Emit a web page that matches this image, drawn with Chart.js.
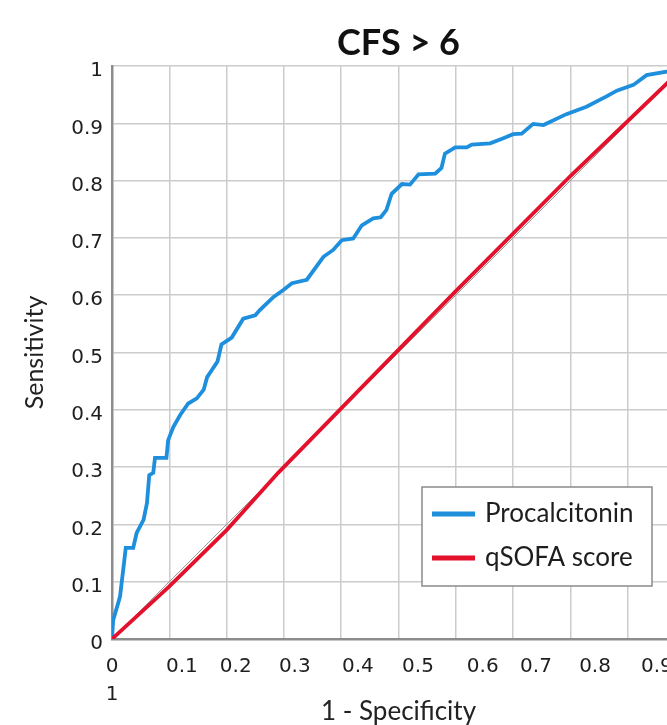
<!DOCTYPE html>
<html>
<head>
<meta charset="utf-8">
<script src="https://cdn.jsdelivr.net/npm/chart.js@4/dist/chart.umd.min.js"></script>
<style>
  html, body { margin: 0; padding: 0; background: #ffffff; overflow: hidden; }
  #wrap { width: 700px; height: 725px; }
</style>
</head>
<body>
<div id="wrap"><canvas id="c" width="700" height="725"></canvas></div>
<script>
// ---- data ----
const chartTitle = 'CFS > 6';
const xAxisTitle = '1 - Specificity';
const yAxisTitle = 'Sensitivity';
const seriesNames = ['Procalcitonin', 'qSOFA score'];

const procalcitoninFPR = [0,0.002,0.010,0.014,0.021,0.024,0.037,0.043,0.055,0.061,0.065,0.072,0.075,0.095,0.098,0.107,0.119,0.133,0.148,0.160,0.166,0.174,0.184,0.191,0.209,0.229,0.250,0.258,0.282,0.299,0.314,0.340,0.369,0.386,0.401,0.421,0.436,0.456,0.469,0.479,0.488,0.506,0.520,0.535,0.564,0.575,0.581,0.599,0.619,0.628,0.660,0.683,0.700,0.715,0.735,0.753,0.793,0.828,0.863,0.881,0.910,0.933,0.968,1];
const procalcitoninTPR = [0,0.033,0.060,0.074,0.133,0.159,0.159,0.185,0.208,0.237,0.286,0.290,0.316,0.316,0.347,0.370,0.391,0.411,0.420,0.435,0.457,0.469,0.484,0.514,0.526,0.559,0.565,0.574,0.597,0.609,0.621,0.627,0.667,0.679,0.696,0.699,0.722,0.734,0.736,0.749,0.777,0.794,0.793,0.811,0.812,0.822,0.847,0.858,0.858,0.863,0.865,0.874,0.881,0.882,0.899,0.897,0.916,0.929,0.947,0.957,0.967,0.984,0.990,1];

const qsofaFPR = [0,0.1,0.2,0.29,0.6,0.8,1];
const qsofaTPR = [0,0.092,0.19,0.29,0.607,0.808,1];

const referenceFPR = [0,1];
const referenceTPR = [0,1];

const yTickValues = [0,0.1,0.2,0.3,0.4,0.5,0.6,0.7,0.8,0.9,1];
const yTickLabels = ['0','0.1','0.2','0.3','0.4','0.5','0.6','0.7','0.8','0.9','1'];
// x tick labels and the axis value each label sits over in the reference
const xTickLabels = [['0','1'],'0.1','0.2','0.3','0.4','0.5','0.6','0.7','0.8','0.9'];
const xTickLabelAt = [0,0.122,0.216,0.319,0.429,0.534,0.647,0.740,0.843,0.951];

// ---- build ----
const zip = (xs, ys) => xs.map((x, i) => ({x: x, y: ys[i]}));
const tickFont = {family: 'DejaVu Sans', size: 20, weight: 'normal', lineHeight: 1.4};

const legendPlugin = {
  id: 'insideLegend',
  afterDatasetsDraw(chart) {
    const ctx = chart.ctx, a = chart.chartArea;
    const bx = a.left + 310, by = a.top + 421, bw = 230, bh = 99;
    ctx.save();
    ctx.fillStyle = '#ffffff';
    ctx.fillRect(bx, by, bw, bh);
    ctx.strokeStyle = '#8a8a8a';
    ctx.lineWidth = 1.5;
    ctx.strokeRect(bx, by, bw, bh);
    const items = chart.data.datasets.filter(d => d.inLegend);
    ctx.font = '26px Lato';
    ctx.textBaseline = 'middle';
    ctx.textAlign = 'left';
    items.forEach((d, i) => {
      const cy = by + 27 + i * 44;
      ctx.strokeStyle = d.borderColor;
      ctx.lineWidth = 5;
      ctx.beginPath();
      ctx.moveTo(bx + 10, cy);
      ctx.lineTo(bx + 53, cy);
      ctx.stroke();
      ctx.fillStyle = '#1e1e1e';
      ctx.fillText(d.label, bx + 63, cy);
    });
    ctx.restore();
  }
};

new Chart(document.getElementById('c'), {
  type: 'line',
  data: {
    datasets: [
      {label: 'reference', data: zip(referenceFPR, referenceTPR), borderColor: '#9a9a9a', borderWidth: 1, pointRadius: 0, tension: 0, inLegend: false, order: 3},
      {label: seriesNames[0], data: zip(procalcitoninFPR, procalcitoninTPR), borderColor: '#1d8fdd', borderWidth: 3.8, pointRadius: 0, tension: 0, inLegend: true, order: 2},
      {label: seriesNames[1], data: zip(qsofaFPR, qsofaTPR), borderColor: '#e3112c', borderWidth: 3.8, pointRadius: 0, tension: 0, inLegend: true, order: 1}
    ]
  },
  options: {
    responsive: false,
    animation: false,
    layout: {padding: {left: 0, right: 15, top: 0, bottom: 0}},
    plugins: {
      legend: {display: false},
      tooltip: {enabled: false},
      title: {
        display: true, text: chartTitle, fullSize: false,
        color: '#111111',
        font: {family: 'Lato', size: 36, weight: 'bold', lineHeight: 1.2},
        padding: {top: 22, bottom: 0.8}
      }
    },
    scales: {
      x: {
        type: 'linear', position: 'bottom', min: 0, max: 1, weight: 0,
        ticks: {display: false, stepSize: 0.1},
        grid: {color: '#cccccc', lineWidth: 1.5, drawTicks: false},
        border: {color: '#8c8c8c', width: 2.5},
        afterFit(s) { s.height = 0; }
      },
      x2: {
        type: 'linear', position: 'bottom', min: 0, max: 1, weight: 1,
        grid: {display: false, drawTicks: false},
        border: {display: false},
        afterBuildTicks(s) { s.ticks = xTickLabelAt.map(v => ({value: v})); },
        ticks: {
          autoSkip: false, maxRotation: 0, padding: 14, color: '#1e1e1e', font: tickFont,
          callback: (v, i) => xTickLabels[i]
        },
        title: {
          display: true, text: xAxisTitle, color: '#222222',
          font: {family: 'Lato', size: 26, lineHeight: 1.02},
          padding: {top: 0, bottom: 0}
        },
        afterFit(s) { s.height = 86; }
      },
      y: {
        type: 'linear', min: 0, max: 1,
        afterBuildTicks(s) { s.ticks = yTickValues.map(v => ({value: v})); },
        ticks: {
          padding: 9, labelOffset: 5, color: '#1e1e1e', font: tickFont,
          callback: (v, i) => yTickLabels[i]
        },
        grid: {color: '#cccccc', lineWidth: 1.5, drawTicks: false},
        border: {color: '#8c8c8c', width: 2.5},
        title: {
          display: true, text: yAxisTitle, color: '#222222',
          font: {family: 'Lato', size: 25, lineHeight: 1.2},
          padding: {top: 20, bottom: 0}
        },
        afterFit(s) { s.width = 112; }
      }
    }
  },
  plugins: [legendPlugin]
});
</script>
</body>
</html>
